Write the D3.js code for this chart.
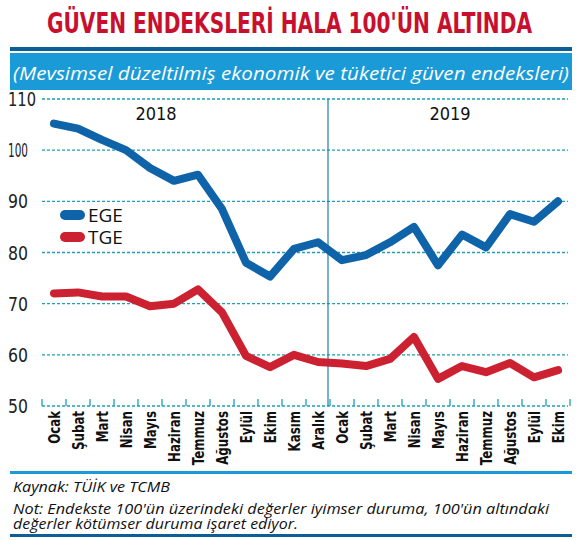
<!DOCTYPE html><html><head><meta charset="utf-8"><script src="https://d3js.org/d3.v7.min.js"></script>
<style>body{margin:0;background:#fff}</style></head><body><svg id="c" width="582" height="540"></svg>
<script>
const months=["Ocak","Şubat","Mart","Nisan","Mayıs","Haziran","Temmuz","Ağustos","Eylül","Ekim","Kasım","Aralık","Ocak","Şubat","Mart","Nisan","Mayıs","Haziran","Temmuz","Ağustos","Eylül","Ekim"];
const ege=[105.2,104.2,102,100,96.5,94,95.2,88.5,78,75.3,80.7,82,78.5,79.5,82,85,77.5,83.5,81,87.5,86,90];
const tge=[72,72.2,71.4,71.4,69.5,70,72.8,68.3,59.8,57.6,60,58.6,58.3,57.8,59.2,63.5,55.3,57.8,56.6,58.4,55.6,57];
const yTicks=[50,60,70,80,90,100,110];
const years=["2018","2019"];
const svg=d3.select("#c");
const cond="'DejaVu Sans Condensed','DejaVu Sans',sans-serif";
svg.append("text").attr("x",47).attr("y",33).attr("font-family",cond).attr("font-weight","bold").attr("font-size",29).attr("fill","#c8102e").attr("textLength",485).attr("lengthAdjust","spacingAndGlyphs").text("GÜVEN ENDEKSLERİ HALA 100'ÜN ALTINDA");
svg.append("rect").attr("x",10).attr("y",47).attr("width",562).attr("height",4).attr("fill","#0b5e96");
svg.append("rect").attr("x",10).attr("y",53).attr("width",562).attr("height",37).attr("fill","#1a9ad6");
svg.append("text").attr("x",13).attr("y",80).attr("font-family","'Open Sans',sans-serif").attr("font-style","italic").attr("font-size",19).attr("fill","#fff").attr("textLength",556).attr("lengthAdjust","spacingAndGlyphs").text("(Mevsimsel düzeltilmiş ekonomik ve tüketici güven endeksleri)");
const x=d3.scaleBand().domain(d3.range(22)).range([42,570]);
const y=d3.scaleLinear().domain([50,110]).range([406,99]);
const cx=i=>x(i)+x.bandwidth()/2;
yTicks.forEach(t=>{
 svg.append("line").attr("x1",42).attr("x2",568).attr("y1",y(t)).attr("y2",y(t)).attr("stroke","#1aa0b8").attr("stroke-width",1.3).attr("stroke-dasharray","3,2");
 svg.append("text").attr("x",8).attr("y",y(t)+7).attr("font-family",cond).attr("font-size",19).attr("fill","#222").attr("textLength",t>100?28:20).attr("lengthAdjust","spacingAndGlyphs").text(t);
});
d3.range(23).forEach(i=>{const xx=42+i*x.step();svg.append("line").attr("x1",xx).attr("x2",xx).attr("y1",y(50)-7).attr("y2",y(50)).attr("stroke","#1aa0b8").attr("stroke-width",1.3);});
svg.append("line").attr("x1",x(12)-2).attr("x2",x(12)-2).attr("y1",99).attr("y2",406).attr("stroke","#1a7fb0").attr("stroke-width",1.2);
svg.append("text").attr("x",(cx(0)+cx(11))/2-30).attr("y",120).attr("text-anchor","middle").attr("font-family",cond).attr("font-size",18).attr("fill","#111").text(years[0]);
svg.append("text").attr("x",(cx(12)+cx(21))/2).attr("y",120).attr("text-anchor","middle").attr("font-family",cond).attr("font-size",18).attr("fill","#111").text(years[1]);
months.forEach((m,i)=>svg.append("text").attr("transform",`translate(${cx(i)+6},411) rotate(-90) scale(0.82,1)`).attr("text-anchor","end").attr("font-family",cond).attr("font-weight","bold").attr("font-size",16).attr("fill","#111").text(m));
const line=d3.line().x((d,i)=>cx(i)).y(d=>y(d)).curve(d3.curveLinear);
[[tge,"#cc2131"],[ege,"#0f63a8"]].forEach(([d,c])=>svg.append("path").attr("d",line(d)).attr("fill","none").attr("stroke",c).attr("stroke-width",8).attr("stroke-linejoin","round").attr("stroke-linecap","round"));
[["EGE","#0f63a8",215],["TGE","#cc2131",237]].forEach(([t,c,yy])=>{
 svg.append("line").attr("x1",65).attr("x2",80).attr("y1",yy).attr("y2",yy).attr("stroke",c).attr("stroke-width",10).attr("stroke-linecap","round");
 svg.append("text").attr("x",88).attr("y",yy+7).attr("font-family","'Open Sans',sans-serif").attr("font-size",19).attr("fill","#111").text(t);
});
svg.append("rect").attr("x",10).attr("y",471).attr("width",562).attr("height",3).attr("fill","#1a9ad6");
const ft=[["Kaynak: TÜİK ve TCMB",492,157],["Not: Endekste 100'ün üzerindeki değerler iyimser duruma, 100'ün altındaki",514,536],["değerler kötümser duruma işaret ediyor.",529,285]];
ft.forEach(([t,yy,w])=>svg.append("text").attr("x",13).attr("y",yy).attr("font-family","'Open Sans',sans-serif").attr("font-style","italic").attr("font-size",14).attr("fill","#111").attr("textLength",w).attr("lengthAdjust","spacingAndGlyphs").text(t));
svg.append("rect").attr("x",10).attr("y",534).attr("width",562).attr("height",3).attr("fill","#0b5e96");
</script></body></html>
